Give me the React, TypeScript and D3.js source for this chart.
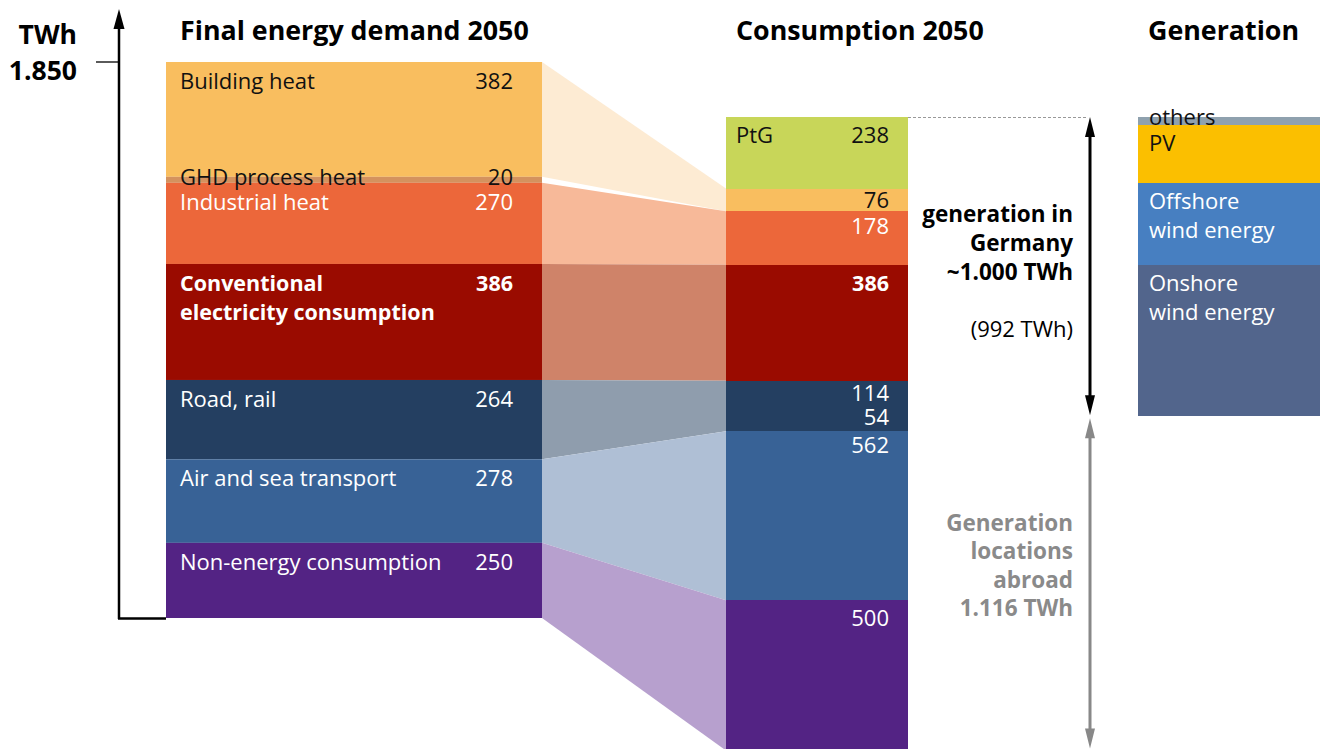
import React, { useEffect } from "react";
import * as d3 from "d3";

// ---- Data ----
const demandLabels = ["Building heat", "GHD process heat", "Industrial heat", "Conventional electricity consumption", "Road, rail", "Air and sea transport", "Non-energy consumption"];
const demandValues = [382, 20, 270, 386, 264, 278, 250];
const demandColors = ["#F9BE5F", "#D4925E", "#EC673A", "#9A0B00", "#243F61", "#386296", "#532384"];
const demandText = ["#111", "#111", "#fff", "#fff", "#fff", "#fff", "#fff"];

const consLabels = ["PtG", "", "", "", "", "", "", ""];
const consValues = [238, 76, 178, 386, 114, 54, 562, 500];
const consColors = ["#C8D659", "#F9BE5F", "#EC673A", "#9A0B00", "#243F61", "#243F61", "#386296", "#532384"];
const consText = ["#111", "#111", "#fff", "#fff", "#fff", "#fff", "#fff", "#fff"];

// flows: demand index -> consumption indices
const flowFrom = [0, 2, 3, 4, 5, 6];
const flowTo = [[1], [2], [3], [4, 5], [6], [7]];
const flowColors = ["#FDEBD3", "#F7B999", "#CF8369", "#8F9DAD", "#AFBFD5", "#B7A0CE"];

const genLabels = [["others"], ["PV"], ["Offshore", "wind energy"], ["Onshore", "wind energy"]];
const genValues = [25, 195, 272, 500];
const genColors = ["#8FA1AE", "#FBBF00", "#477FC1", "#52658C"];
const genText = ["#111", "#111", "#fff", "#fff"];

const totalDemand = 1850;
const germanyTotal = 992;
const abroadTotal = 1116;

const FONT = "'Open Sans', 'Noto Sans', sans-serif";

function stack(values: number[]) {
  let acc = 0;
  return values.map((v) => {
    const s = acc;
    acc += v;
    return [s, acc];
  });
}

export default function App() {
  useEffect(() => {
    document.body.style.margin = "0";
  }, []);

  const k = 556 / totalDemand;
  const yL = d3.scaleLinear().domain([0, totalDemand]).range([62, 62 + totalDemand * k]);
  const consTotal = d3.sum(consValues);
  const yR = d3.scaleLinear().domain([0, consTotal]).range([117, 117 + consTotal * k]);
  const genTotal = d3.sum(genValues);
  const yG = d3.scaleLinear().domain([0, genTotal]).range([117, 117 + genTotal * k]);

  const xL0 = 166, xL1 = 542, xR0 = 726, xR1 = 908, xG0 = 1138, xG1 = 1320;

  const dStack = stack(demandValues);
  const cStack = stack(consValues);
  const gStack = stack(genValues);

  const bands = flowFrom.map((fi, i) => {
    const to = flowTo[i];
    const l0 = yL(dStack[fi][0]), l1 = yL(dStack[fi][1]);
    const r0 = yR(cStack[to[0]][0]), r1 = yR(cStack[to[to.length - 1]][1]);
    const path = d3.path();
    path.moveTo(xL1, l0);
    path.lineTo(xR0, r0);
    path.lineTo(xR0, r1);
    path.lineTo(xL1, l1);
    path.closePath();
    return <path key={"b" + i} d={path.toString()} fill={flowColors[i]} />;
  });

  const arrowHead = (x: number, y: number, dir: number, color: string, w = 10, h = 20) => (
    <path d={`M${x},${y} L${x - w / 2},${y + dir * h} L${x + w / 2},${y + dir * h} Z`} fill={color} />
  );

  const yGerm = yR(germanyTotal);
  const yAbroadEnd = yR(germanyTotal + abroadTotal);

  return (
    <svg width={1324} height={749} style={{ position: "absolute", left: 0, top: 0, fontFamily: FONT }}>
      {/* axis */}
      <line x1={119} y1={25} x2={119} y2={619} stroke="#000" strokeWidth={2.5} />
      <line x1={118} y1={618.5} x2={166} y2={618.5} stroke="#000" strokeWidth={2.5} />
      {arrowHead(119, 9, 1, "#000", 11, 20)}
      <line x1={96} y1={yL(0)} x2={119} y2={yL(0)} stroke="#000" strokeWidth={1.3} />
      <text x={77} y={44} textAnchor="end" fontWeight="bold" fontSize={26.5}>TWh</text>
      <text x={77} y={80} textAnchor="end" fontWeight="bold" fontSize={26.5}>1.850</text>

      {/* titles */}
      <text x={180} y={40} fontWeight="bold" fontSize={26.8}>Final energy demand 2050</text>
      <text x={736} y={40} fontWeight="bold" fontSize={26.8}>Consumption 2050</text>
      <text x={1148} y={40} fontWeight="bold" fontSize={26.8}>Generation</text>

      {bands}

      {/* demand column */}
      {demandValues.map((v, i) => (
        <rect key={"d" + i} x={xL0} y={yL(dStack[i][0])} width={xL1 - xL0} height={yL(dStack[i][1]) - yL(dStack[i][0])} fill={demandColors[i]} />
      ))}
      {demandValues.map((v, i) => {
        const top = yL(dStack[i][0]);
        const bold = i === 3;
        const base = i === 1 ? top + 8.5 : top + 27;
        const lines = i === 3 ? ["Conventional", "electricity consumption"] : [demandLabels[i]];
        return (
          <g key={"dt" + i} fill={demandText[i]} fontSize={bold ? 21.5 : 22} fontWeight={bold ? "bold" : "normal"}>
            {lines.map((l, j) => (
              <text key={j} x={180} y={base + j * 29}>{l}</text>
            ))}
            <text x={513} y={base} textAnchor="end">{v}</text>
          </g>
        );
      })}

      {/* consumption column */}
      <g shapeRendering="crispEdges">
        {consValues.map((v, i) => (
          <rect key={"c" + i} x={xR0} y={yR(cStack[i][0])} width={xR1 - xR0} height={yR(cStack[i][1]) - yR(cStack[i][0]) + 0.5} fill={consColors[i]} />
        ))}
      </g>
      {consValues.map((v, i) => {
        const top = yR(cStack[i][0]);
        let base = top + 26;
        if (i === 1) base = top + 19;
        if (i === 2) base = top + 23;
        if (i === 4) base = top + 20;
        if (i === 5) base = top + 10;
        if (i === 6) base = top + 22;
        return (
          <g key={"ct" + i} fill={consText[i]} fontSize={i === 3 ? 21.5 : 22} fontWeight={i === 3 ? "bold" : "normal"}>
            {consLabels[i] && <text x={736} y={base}>{consLabels[i]}</text>}
            <text x={889} y={base} textAnchor="end">{v}</text>
          </g>
        );
      })}

      {/* generation column */}
      <g shapeRendering="crispEdges">
        {genValues.map((v, i) => (
          <rect key={"g" + i} x={xG0} y={yG(gStack[i][0])} width={xG1 - xG0} height={yG(gStack[i][1]) - yG(gStack[i][0]) + 0.5} fill={genColors[i]} />
        ))}
      </g>
      {genValues.map((v, i) => {
        const top = yG(gStack[i][0]);
        const base = i === 0 ? top + 7.5 : top + 26;
        return (
          <g key={"gt" + i} fill={genText[i]} fontSize={22}>
            {genLabels[i].map((l, j) => (
              <text key={j} x={1149} y={base + j * 29}>{l}</text>
            ))}
          </g>
        );
      })}

      {/* dashed line */}
      <line x1={xR1} y1={117.5} x2={1088} y2={117.5} stroke="#999" strokeWidth={1} strokeDasharray="3,2" />

      {/* Germany arrow */}
      <line x1={1090} y1={130} x2={1090} y2={yGerm - 12} stroke="#000" strokeWidth={3} />
      {arrowHead(1090, yR(0), 1, "#000", 10, 20)}
      {arrowHead(1090, yGerm, -1, "#000", 10, 20)}
      <g fontWeight="bold" fontSize={22.5} textAnchor="end" fill="#000">
        <text x={1073} y={222}>generation in</text>
        <text x={1073} y={251}>Germany</text>
        <text x={1073} y={280}>~1.000 TWh</text>
      </g>
      <text x={1073} y={337} fontSize={22} textAnchor="end" fill="#000">(992 TWh)</text>

      {/* abroad arrow */}
      <line x1={1090} y1={yGerm + 14} x2={1090} y2={yAbroadEnd - 14} stroke="#888" strokeWidth={3} />
      {arrowHead(1090, yGerm + 3, 1, "#888", 10, 20)}
      {arrowHead(1090, yAbroadEnd - 2, -1, "#888", 10, 20)}
      <g fontWeight="bold" fontSize={22.5} textAnchor="end" fill="#8A8A8A">
        <text x={1073} y={531}>Generation</text>
        <text x={1073} y={559}>locations</text>
        <text x={1073} y={588}>abroad</text>
        <text x={1073} y={616}>1.116 TWh</text>
      </g>
    </svg>
  );
}
